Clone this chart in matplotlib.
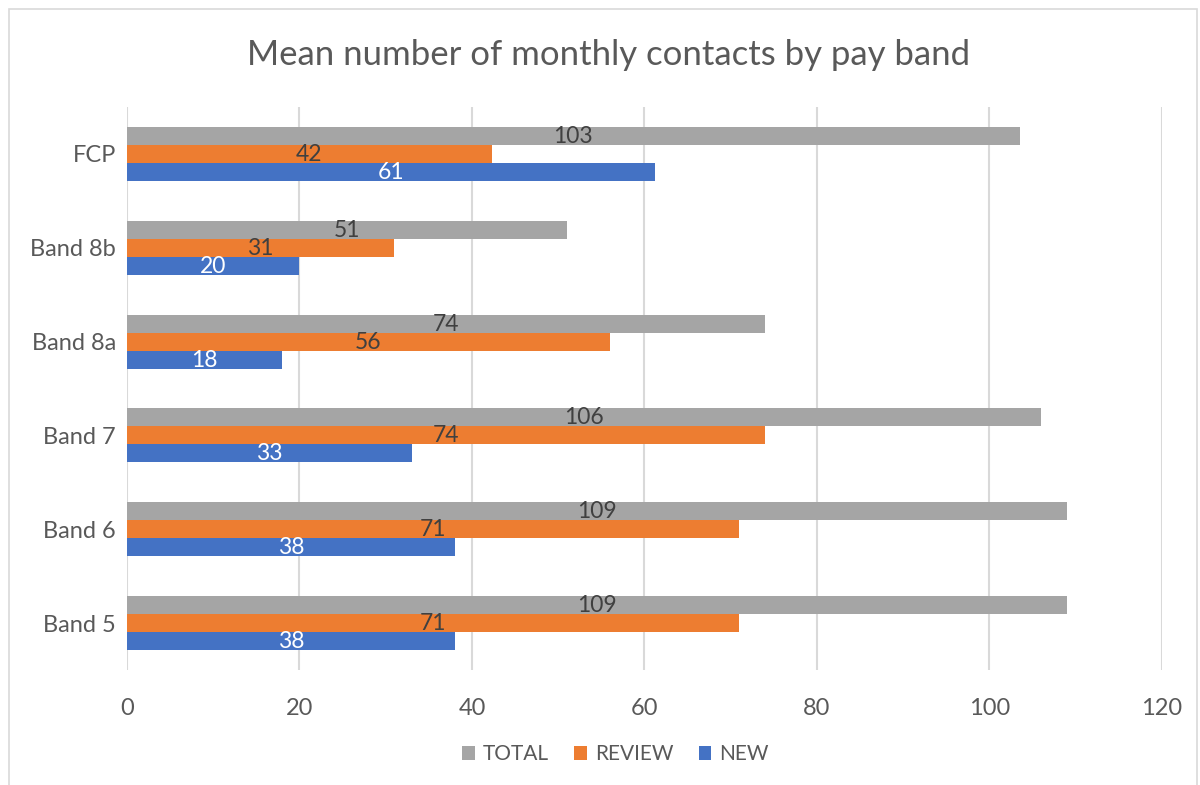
import matplotlib.pyplot as plt
from matplotlib.patches import Rectangle
import numpy as np

plt.rcParams['font.family'] = ['Lato', 'DejaVu Sans']

bands = ['Band 5', 'Band 6', 'Band 7', 'Band 8a', 'Band 8b', 'FCP']
new = [38, 38, 33, 18, 20, 61.2]
review = [71, 71, 74, 56, 31, 42.3]
total = [109, 109, 106, 74, 51, 103.5]
new_lbl = ['38', '38', '33', '18', '20', '61']
review_lbl = ['71', '71', '74', '56', '31', '42']
total_lbl = ['109', '109', '106', '74', '51', '103']

fig = plt.figure(figsize=(12, 7.85), dpi=100)
ax = fig.add_axes([0.1058, 0.1465, 0.8625, 0.7172])

# chart border like Excel
fig.patches.append(Rectangle((0.0075, -0.01), 0.99, 0.9985, transform=fig.transFigure,
                             fill=False, edgecolor='#D9D9D9', lw=1.2))

y = np.arange(len(bands))
h = 0.192
series = [
    (new, new_lbl, -h, '#4472C4', 'NEW', 'white'),
    (review, review_lbl, 0, '#ED7D31', 'REVIEW', '#404040'),
    (total, total_lbl, h, '#A5A5A5', 'TOTAL', '#404040'),
]
handles = {}
for vals, lbls, off, col, name, tcol in series:
    bars = ax.barh(y + off, vals, height=h, color=col, label=name, zorder=3)
    handles[name] = bars
    for b, t in zip(bars, lbls):
        ax.text(b.get_width() / 2, b.get_y() + b.get_height() / 2 - 0.005, t,
                ha='center', va='center', color=tcol, fontsize=16.5, zorder=4)

ax.set_xlim(0, 120)
ax.set_ylim(-0.5, 5.5)
ax.set_xticks(range(0, 121, 20))
ax.set_yticks(y)
ax.set_yticklabels(bands)
ax.grid(axis='x', color='#D9D9D9', lw=1.5, zorder=0)
ax.set_axisbelow(True)
for s in ax.spines.values():
    s.set_visible(False)
ax.tick_params(axis='both', length=0, labelsize=17, labelcolor='#595959')
ax.tick_params(axis='x', pad=20)
ax.tick_params(axis='y', pad=8)

fig.suptitle('Mean number of monthly contacts by pay band', x=0.507, y=0.95,
             fontsize=25, color='#595959')

fig.legend([handles['TOTAL'], handles['REVIEW'], handles['NEW']],
           ['TOTAL', 'REVIEW', 'NEW'], loc='center', bbox_to_anchor=(0.513, 0.039),
           ncol=3, frameon=False, fontsize=15, labelcolor='#595959',
           handlelength=0.6, handleheight=0.7, handletextpad=0.4, columnspacing=1.2)

fig.savefig('out.png', dpi=100)
